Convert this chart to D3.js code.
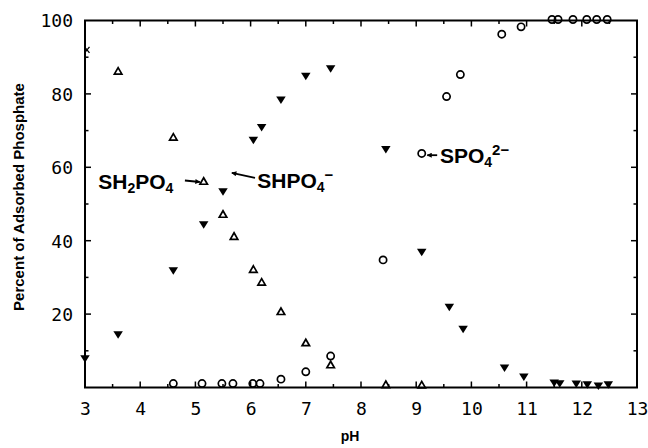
<!DOCTYPE html>
<html>
<head>
<meta charset="utf-8">
<script src="https://cdn.jsdelivr.net/npm/d3@7"></script>
<style>
  html, body { margin: 0; padding: 0; background: #fff; }
  svg { display: block; }
</style>
</head>
<body>
<svg id="chart" width="648" height="448"></svg>
<script>
// ---------- data ----------
const xTicks = [3, 4, 5, 6, 7, 8, 9, 10, 11, 12, 13];
const yTicks = [20, 40, 60, 80, 100];

// SH2PO4 (open triangles)
const h2po4pH  = [3.6, 4.6, 5.15, 5.5, 5.7, 6.05, 6.2, 6.55, 7.0, 7.45, 8.45, 9.1];
const h2po4Pct = [86, 68, 56, 47, 41, 32, 28.5, 20.5, 12, 6, 0.6, 0.5];

// SHPO4- (filled inverted triangles)
const hpo4pH  = [3.0, 3.6, 4.6, 5.15, 5.5, 6.05, 6.2, 6.55, 7.0, 7.45, 8.45, 9.1, 9.6, 9.85, 10.6, 10.95, 11.5, 11.6, 11.9, 12.1, 12.3, 12.48];
const hpo4Pct = [7.5, 14, 31.5, 44, 53, 67, 70.5, 78, 84.5, 86.5, 64.5, 36.5, 21.5, 15.5, 5, 2.5, 0.9, 0.7, 0.6, 0.4, 0.1, 0.4];

// SPO4 2- (open circles)
const po4pH  = [4.6, 5.12, 5.48, 5.68, 6.04, 6.17, 6.55, 7.0, 7.45, 8.4, 9.1, 9.55, 9.8, 10.55, 10.9, 11.46, 11.57, 11.84, 12.09, 12.27, 12.46];
const po4Pct = [0.8, 0.8, 0.8, 0.8, 0.8, 0.8, 2, 4, 8.3, 34.5, 63.5, 79, 85, 96, 98, 100, 100, 100, 100, 100, 100];

// lone "x" mark
const xMarkPH = [3.0];
const xMarkPct = [92];

// annotation labels (anchor in pH / percent units)
const labelNames  = ["SH2PO4", "SHPO4-", "SPO42-"];
const labelPH     = [4.6, 6.12, 9.43];
const labelPct    = [54, 54.4, 61.2];
// annotation arrows: tail -> head (pH / percent)
const arrowX1 = [4.81, 6.08, 9.38];
const arrowY1 = [56.4, 57.1, 63.3];
const arrowX2 = [5.08, 5.66, 9.2];
const arrowY2 = [56.0, 58.5, 63.3];

// ---------- scales ----------
const svg = d3.select("#chart");
const x = d3.scaleLinear().domain([3, 13]).range([85, 637]);
const y = d3.scaleLinear().domain([0, 100]).range([387.5, 20.5]);

const tickFont = "'DejaVu Sans Mono', monospace";
const labFont = "'Liberation Sans', Arial, sans-serif";

// ---------- frame and axes ----------
const gFrame = svg.append("g");
gFrame.append("rect")
  .attr("x", x(3)).attr("y", y(100))
  .attr("width", x(13) - x(3)).attr("height", y(0) - y(100))
  .attr("fill", "none").attr("stroke", "#000").attr("stroke-width", 2);

// bottom axis ticks (inward = up)
const bottom = d3.axisBottom(x).tickValues(xTicks).tickSize(0).tickFormat(d3.format("d"));
const gB = svg.append("g").attr("transform", `translate(0,${y(0)})`).call(bottom);
gB.select(".domain").remove();
gB.selectAll("text")
  .attr("font-family", tickFont).attr("font-size", 18).attr("fill", "#000")
  .attr("dy", null).attr("y", 27.5);

const xMinor = d3.range(3.5, 13, 1);
const xMajorInner = d3.range(4, 13, 1);
function tickLines(vals, fn) { vals.forEach(fn); }
const tg = svg.append("g").attr("stroke", "#000").attr("stroke-width", 1.5);
xMajorInner.forEach(v => {
  tg.append("line").attr("x1", x(v)).attr("x2", x(v)).attr("y1", y(0)).attr("y2", y(0) - 6);
  tg.append("line").attr("x1", x(v)).attr("x2", x(v)).attr("y1", y(100)).attr("y2", y(100) + 6);
});
xMinor.forEach(v => {
  tg.append("line").attr("x1", x(v)).attr("x2", x(v)).attr("y1", y(0)).attr("y2", y(0) - 3.5);
  tg.append("line").attr("x1", x(v)).attr("x2", x(v)).attr("y1", y(100)).attr("y2", y(100) + 3.5);
});
const yMajorInner = [20, 40, 60, 80];
const yMinor = d3.range(10, 100, 20);
yMajorInner.forEach(v => {
  tg.append("line").attr("x1", x(3)).attr("x2", x(3) + 6).attr("y1", y(v)).attr("y2", y(v));
  tg.append("line").attr("x1", x(13)).attr("x2", x(13) - 6).attr("y1", y(v)).attr("y2", y(v));
});
yMinor.forEach(v => {
  tg.append("line").attr("x1", x(3)).attr("x2", x(3) + 3.5).attr("y1", y(v)).attr("y2", y(v));
  tg.append("line").attr("x1", x(13)).attr("x2", x(13) - 3.5).attr("y1", y(v)).attr("y2", y(v));
});

// left axis labels
const left = d3.axisLeft(y).tickValues(yTicks).tickSize(0).tickFormat(d3.format("d"));
const gL = svg.append("g").attr("transform", `translate(${x(3)},0)`).call(left);
gL.select(".domain").remove();
gL.selectAll("text")
  .attr("font-family", tickFont).attr("font-size", 18).attr("fill", "#000")
  .attr("x", -12).attr("dy", "0.36em");

// axis titles
svg.append("text")
  .attr("x", 350).attr("y", 441)
  .attr("text-anchor", "middle")
  .attr("font-family", labFont).attr("font-weight", "bold").attr("font-size", 14)
  .text("pH");
svg.append("text")
  .attr("transform", "translate(24,197) rotate(-90)")
  .attr("text-anchor", "middle")
  .attr("font-family", labFont).attr("font-weight", "bold").attr("font-size", 15)
  .text("Percent of Adsorbed Phosphate");

// ---------- marks ----------
const marks = svg.append("g");
const triUp = (w, h) => `M0,${-h/2}L${w/2},${h/2}L${-w/2},${h/2}Z`;
const triDown = (w, h) => `M${-w/2},${-h/2}L${w/2},${-h/2}L0,${h/2}Z`;

marks.selectAll(".h2").data(d3.zip(h2po4pH, h2po4Pct)).join("path")
  .attr("d", triUp(7.5, 6.5))
  .attr("transform", d => `translate(${x(d[0])},${y(d[1]) - 1})`)
  .attr("fill", "none").attr("stroke", "#000").attr("stroke-width", 1.7);

marks.selectAll(".po").data(d3.zip(po4pH, po4Pct)).join("circle")
  .attr("cx", d => x(d[0])).attr("cy", d => y(d[1]) - 1)
  .attr("r", 3.6)
  .attr("fill", "none").attr("stroke", "#000").attr("stroke-width", 1.7);

marks.selectAll(".hp").data(d3.zip(hpo4pH, hpo4Pct)).join("path")
  .attr("d", triDown(9.5, 7.5))
  .attr("transform", d => `translate(${x(d[0])},${y(d[1]) - 1})`)
  .attr("fill", "#000");

marks.selectAll(".xm").data(d3.zip(xMarkPH, xMarkPct)).join("path")
  .attr("d", "M-2.5,-3L2.5,3M-2.5,3L2.5,-3")
  .attr("transform", d => `translate(${x(d[0]) + 2},${y(d[1])})`)
  .attr("stroke", "#000").attr("stroke-width", 1.3).attr("fill", "none");

// ---------- annotations ----------
svg.append("defs").append("marker")
  .attr("id", "ah").attr("viewBox", "0 0 10 10")
  .attr("refX", 9).attr("refY", 5)
  .attr("markerWidth", 7).attr("markerHeight", 5)
  .attr("markerUnits", "userSpaceOnUse")
  .attr("orient", "auto")
  .append("path").attr("d", "M0,0L10,5L0,10Z").attr("fill", "#000");

const ann = svg.append("g")
  .attr("font-family", labFont).attr("font-weight", "bold").attr("font-size", 21).attr("fill", "#000");

d3.range(arrowX1.length).forEach(i => {
  ann.append("line")
    .attr("x1", x(arrowX1[i])).attr("y1", y(arrowY1[i]))
    .attr("x2", x(arrowX2[i])).attr("y2", y(arrowY2[i]))
    .attr("stroke", "#000").attr("stroke-width", 1.8)
    .attr("marker-end", "url(#ah)");
});

function addLabel(i, parts, anchor) {
  const t = ann.append("text")
    .attr("x", x(labelPH[i])).attr("y", y(labelPct[i]))
    .attr("text-anchor", anchor);
  parts.forEach(p => {
    const ts = t.append("tspan").text(p.t);
    if (p.sub) ts.attr("font-size", 14).attr("dy", 4);
    else if (p.sup) ts.attr("font-size", 15).attr("dy", p.dy);
    else if (p.dy) ts.attr("dy", p.dy);
  });
}
addLabel(0, [{t: "SH"}, {t: "2", sub: true}, {t: "PO", dy: -4}, {t: "4", sub: true}], "end");
addLabel(1, [{t: "SHPO"}, {t: "4", sub: true}, {t: "\u2212", sup: true, dy: -12}], "start");
addLabel(2, [{t: "SPO"}, {t: "4", sub: true}, {t: "2\u2212", sup: true, dy: -12}], "start");
</script>
</body>
</html>
